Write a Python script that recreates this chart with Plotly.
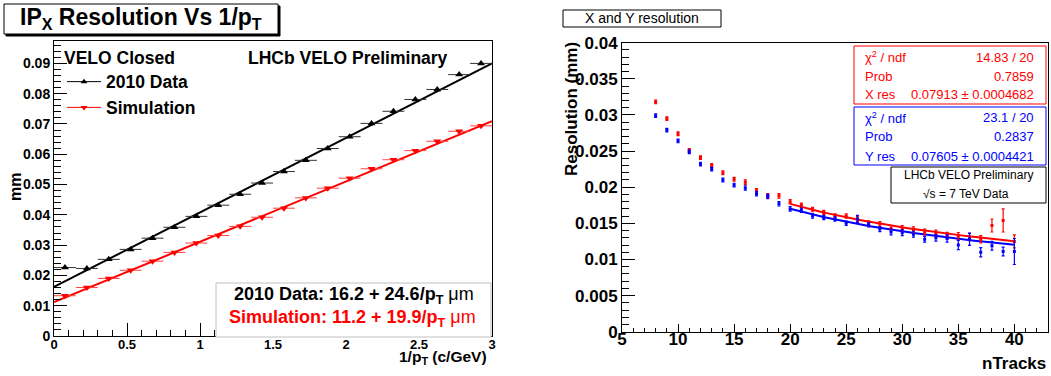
import plotly.graph_objects as go
import numpy as np

W, H = 1051, 376
FONT = "Liberation Sans, Arial, Helvetica, sans-serif"

# ---------------- Left panel data ----------------
inv_pt = [0.075, 0.225, 0.375, 0.525, 0.675, 0.825, 0.975, 1.125, 1.275, 1.425,
          1.575, 1.725, 1.875, 2.025, 2.175, 2.325, 2.475, 2.625, 2.775, 2.925]
inv_pt_halfwidth = 0.075
data_2010 = [0.0226, 0.0223, 0.0253, 0.0286, 0.0323, 0.0359, 0.0395, 0.0432, 0.0468, 0.0505,
             0.0543, 0.0580, 0.0619, 0.0658, 0.0702, 0.0742, 0.0781, 0.0814, 0.0863, 0.0900]
simulation = [0.0133, 0.0160, 0.0190, 0.0217, 0.0247, 0.0276, 0.0307, 0.0332, 0.0362, 0.0392,
              0.0422, 0.0456, 0.0488, 0.0521, 0.0552, 0.0582, 0.0612, 0.0643, 0.0676, 0.0694]
# fit parameters (mm): const + slope / pT
fit_2010 = [0.0162, 0.0246]
fit_sim = [0.0112, 0.0199]

# ---------------- Right panel data ----------------
ntracks = [8, 9, 10, 11, 12, 13, 14, 15, 16, 17, 18, 19, 20, 21, 22, 23, 24, 25, 26, 27,
           28, 29, 30, 31, 32, 33, 34, 35, 36, 37, 38, 39, 40]
x_res = [0.0318, 0.0295, 0.0274, 0.0251, 0.0241, 0.0230, 0.0220, 0.0211, 0.0207, 0.0195,
         0.0188, 0.0188, 0.0180, 0.0175, 0.0169, 0.0165, 0.0160, 0.0160, 0.0156, 0.0150,
         0.0149, 0.0143, 0.0143, 0.0141, 0.0138, 0.0136, 0.0133, 0.0132, 0.0131, 0.0128,
         0.0147, 0.0154, 0.0125]
x_err = [0.00025, 0.00025, 0.00025, 0.00025, 0.00025, 0.00025, 0.00025, 0.00025, 0.0003, 0.0003,
         0.0003, 0.0003, 0.0003, 0.0003, 0.0003, 0.0003, 0.0003, 0.0003, 0.00035, 0.00035,
         0.00035, 0.0004, 0.0004, 0.0004, 0.0004, 0.00045, 0.00045, 0.0005, 0.0005, 0.0005,
         0.0009, 0.0016, 0.0009]
y_res = [0.0299, 0.0279, 0.0264, 0.0249, 0.0232, 0.0225, 0.0210, 0.0203, 0.0199, 0.0191,
         0.0187, 0.0177, 0.0170, 0.0168, 0.0160, 0.0158, 0.0156, 0.0150, 0.0156, 0.0148,
         0.0142, 0.0138, 0.0137, 0.0135, 0.0128, 0.0130, 0.0129, 0.0120, 0.0128, 0.0110,
         0.0119, 0.0111, 0.0111]
y_err = [0.00025, 0.00025, 0.00025, 0.00025, 0.00025, 0.00025, 0.00025, 0.00025, 0.0003, 0.0003,
         0.0003, 0.0003, 0.0003, 0.0003, 0.0003, 0.0003, 0.0003, 0.0003, 0.0005, 0.0003,
         0.00035, 0.0004, 0.0004, 0.0004, 0.0004, 0.00045, 0.0005, 0.00065, 0.00085, 0.00065,
         0.0006, 0.0006, 0.0018]
fit_range = [20, 40]
x_res_par = 0.07913
y_res_par = 0.07605

RED = "#ff0000"
BLUE = "#0000ff"


def fx(p):
    return p / W


def fy(p):
    return 1 - p / H


fig = go.Figure()

# ---- left panel traces ----
xl = np.linspace(0, 3, 50)
fig.add_trace(go.Scatter(x=xl, y=fit_2010[0] + fit_2010[1] * xl, mode="lines",
                         line=dict(color="black", width=2), showlegend=False,
                         xaxis="x", yaxis="y", hoverinfo="skip"))
fig.add_trace(go.Scatter(x=xl, y=fit_sim[0] + fit_sim[1] * xl, mode="lines",
                         line=dict(color=RED, width=2), showlegend=False,
                         xaxis="x", yaxis="y", hoverinfo="skip"))
fig.add_trace(go.Scatter(x=inv_pt, y=data_2010, mode="markers",
                         marker=dict(symbol="triangle-up", size=7, color="black"),
                         error_x=dict(type="constant", value=inv_pt_halfwidth, color="#333333",
                                      thickness=1, width=0),
                         showlegend=False, xaxis="x", yaxis="y"))
fig.add_trace(go.Scatter(x=inv_pt, y=simulation, mode="markers",
                         marker=dict(symbol="triangle-down", size=7, color=RED),
                         error_x=dict(type="constant", value=inv_pt_halfwidth, color="#ff4040",
                                      thickness=1, width=0),
                         showlegend=False, xaxis="x", yaxis="y"))
# legend entries
fig.add_trace(go.Scatter(x=[None], y=[None], mode="lines+markers", name="2010 Data",
                         line=dict(color="black", width=1),
                         marker=dict(symbol="triangle-up", size=6, color="black"),
                         xaxis="x", yaxis="y"))
fig.add_trace(go.Scatter(x=[None], y=[None], mode="lines+markers", name="Simulation",
                         line=dict(color=RED, width=1),
                         marker=dict(symbol="triangle-down", size=6, color=RED),
                         xaxis="x", yaxis="y"))

# ---- right panel traces ----
nf = np.linspace(fit_range[0], fit_range[1], 60)
fig.add_trace(go.Scatter(x=nf, y=x_res_par / np.sqrt(nf), mode="lines",
                         line=dict(color=RED, width=2), showlegend=False,
                         xaxis="x2", yaxis="y2", hoverinfo="skip"))
fig.add_trace(go.Scatter(x=nf, y=y_res_par / np.sqrt(nf), mode="lines",
                         line=dict(color=BLUE, width=2), showlegend=False,
                         xaxis="x2", yaxis="y2", hoverinfo="skip"))
fig.add_trace(go.Scatter(x=ntracks, y=x_res, mode="markers",
                         marker=dict(symbol="square", size=3, color=RED),
                         error_y=dict(type="data", array=x_err, color=RED, thickness=1.2, width=1.5),
                         showlegend=False, xaxis="x2", yaxis="y2"))
fig.add_trace(go.Scatter(x=ntracks, y=y_res, mode="markers",
                         marker=dict(symbol="square", size=3, color=BLUE),
                         error_y=dict(type="data", array=y_err, color=BLUE, thickness=1.2, width=1.5),
                         showlegend=False, xaxis="x2", yaxis="y2"))

axis_common = dict(showgrid=False, zeroline=False, showline=True, linecolor="black",
                   linewidth=1, mirror=True, ticks="inside", tickcolor="black",
                   automargin=False)

fig.update_layout(
    width=W, height=H,
    margin=dict(l=0, r=0, t=0, b=0, pad=0, autoexpand=False),
    paper_bgcolor="white", plot_bgcolor="white",
    font=dict(family=FONT, color="black"),
    xaxis=dict(domain=[fx(54), fx(492)], range=[0, 3], dtick=0.5, ticklen=13,
               tickfont=dict(size=13, weight="bold"), anchor="y", ticklabelstandoff=-4,
               minor=dict(dtick=0.1, ticklen=6, ticks="inside", tickcolor="black"),
               **axis_common),
    yaxis=dict(domain=[fy(336), fy(41)], range=[0, 0.0974], dtick=0.01, ticklen=13,
               tickfont=dict(size=14, weight="bold"), anchor="x",
               minor=dict(dtick=0.002, ticklen=7, ticks="inside", tickcolor="black"),
               **axis_common),
    xaxis2=dict(domain=[fx(622), fx(1048)], range=[5, 43], dtick=5, ticklen=8,
                tickfont=dict(size=17, weight="bold"), anchor="y2", ticklabelstandoff=-8,
                minor=dict(dtick=1, ticklen=4, ticks="inside", tickcolor="black"),
                **axis_common),
    yaxis2=dict(domain=[fy(331.7), fy(42.7)], range=[0, 0.04], dtick=0.005, ticklen=13,
                tickfont=dict(size=17, weight="bold"), anchor="x2",
                minor=dict(dtick=0.001, ticklen=7, ticks="inside", tickcolor="black"),
                **axis_common),
    legend=dict(x=fx(62), y=fy(41), xanchor="left", yanchor="top",
                bgcolor="rgba(0,0,0,0)", borderwidth=0,
                font=dict(size=17.5, weight="bold", family=FONT),
                title=dict(text="VELO Closed", font=dict(size=17.5, weight="bold", family=FONT)),
                itemwidth=34, tracegroupgap=0),
)


def rect(x0, y0, x1, y1, fill="white", line="black", lw=1):
    return dict(type="rect", xref="paper", yref="paper", layer="above",
                x0=fx(x0), x1=fx(x1), y0=fy(y1), y1=fy(y0),
                fillcolor=fill, line=dict(color=line, width=lw))


shapes = [
    rect(6, 6, 280, 36, fill="black", line="black"),
    rect(4, 4, 278, 34),
    rect(216, 283, 491, 337, line="#c0c0c0"),
    rect(563, 10, 721, 27),
    rect(854, 46, 1046, 104, line=RED),
    rect(854, 107, 1046, 165, line=BLUE),
    rect(891, 167, 1046, 203),
]
fig.update_layout(shapes=shapes)


def ann(text, x, y, size, color="black", xanchor="center", bold=False, angle=0):
    return dict(text=text, x=fx(x), y=fy(y), xref="paper", yref="paper",
                xanchor=xanchor, yanchor="middle", showarrow=False, textangle=angle,
                font=dict(size=size, color=color, family=FONT,
                          weight="bold" if bold else "normal"))


annotations = [
    ann("IP<sub>X</sub> Resolution Vs 1/p<sub>T</sub>", 141, 19, 23, bold=True),
    ann("LHCb VELO Preliminary", 348, 58, 17.5, bold=True),
    ann("<b>2010 Data: 16.2 + 24.6/p<sub>T</sub></b> μm", 476, 295, 18, xanchor="right"),
    ann("<b>Simulation: 11.2 + 19.9/p<sub>T</sub></b> μm", 478, 318, 18, color=RED, xanchor="right"),
    ann("1/p<sub>T</sub> (c/GeV)", 489, 357, 15.5, xanchor="right", bold=True),
    ann("mm", 15, 187, 16, bold=True, angle=-90),
    # right panel
    ann("X and Y resolution", 642, 18.5, 14),
    ann("Resolution (mm)", 571, 109, 17, bold=True, angle=-90),
    ann("nTracks", 1048, 363, 17, xanchor="right", bold=True),
    ann("χ<sup>2</sup> / ndf", 863, 57, 13, color=RED, xanchor="left"),
    ann("14.83 / 20", 1036, 57, 13, color=RED, xanchor="right"),
    ann("Prob", 863, 76, 13, color=RED, xanchor="left"),
    ann("0.7859", 1036, 76, 13, color=RED, xanchor="right"),
    ann("X res", 863, 94, 13, color=RED, xanchor="left"),
    ann("0.07913 ± 0.0004682", 1036, 94, 13, color=RED, xanchor="right"),
    ann("χ<sup>2</sup> / ndf", 863, 117.5, 13, color=BLUE, xanchor="left"),
    ann("23.1 / 20", 1036, 117.5, 13, color=BLUE, xanchor="right"),
    ann("Prob", 863, 137, 13, color=BLUE, xanchor="left"),
    ann("0.2837", 1036, 137, 13, color=BLUE, xanchor="right"),
    ann("Y res", 863, 156, 13, color=BLUE, xanchor="left"),
    ann("0.07605 ± 0.0004421", 1036, 156, 13, color=BLUE, xanchor="right"),
    ann("LHCb VELO Preliminary", 968, 175, 12),
    ann("√s = 7 TeV Data", 966, 194, 12),
]
fig.update_layout(annotations=annotations)

fig.write_html("out.html", config={"displayModeBar": False},
               post_script="document.body.style.margin='0';")
